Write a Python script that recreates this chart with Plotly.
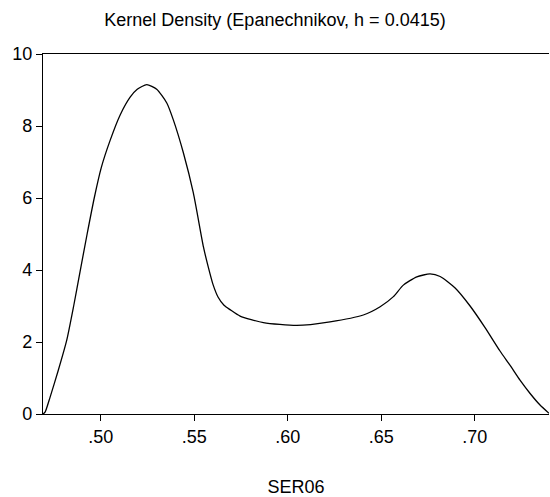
import plotly.graph_objects as go

# Kernel density estimate of SER06
ser06_x = [0.4691, 0.4702, 0.4729, 0.4772, 0.4818, 0.4855, 0.4889, 0.4927, 0.4965, 0.5003,
           0.5050, 0.5103, 0.5157, 0.5195, 0.5246, 0.5299, 0.5353, 0.5388, 0.5442, 0.5495,
           0.5549, 0.5574, 0.5600, 0.5627, 0.5659, 0.5691, 0.5745, 0.5870, 0.6048,
           0.6226, 0.6404, 0.6494, 0.6565, 0.6618, 0.6690, 0.6761, 0.6815, 0.6895,
           0.6975, 0.7055, 0.7135, 0.7189, 0.7242, 0.7296, 0.7349, 0.7397]
density = [0.00, 0.05, 0.47, 1.20, 2.05, 3.00, 3.95, 5.00, 6.00, 6.85,
           7.60, 8.30, 8.80, 9.02, 9.15, 9.02, 8.64, 8.17, 7.25, 6.14,
           4.64, 4.10, 3.60, 3.25, 3.02, 2.90, 2.72, 2.54, 2.46,
           2.56, 2.75, 2.98, 3.26, 3.58, 3.81, 3.89, 3.82, 3.50,
           3.00, 2.40, 1.75, 1.35, 0.94, 0.57, 0.25, 0.02]

x_tickvals = [0.50, 0.55, 0.60, 0.65, 0.70]
x_ticktext = [".50", ".55", ".60", ".65", ".70"]
y_tickvals = [0, 2, 4, 6, 8, 10]
y_ticktext = ["0", "2", "4", "6", "8", "10"]

FONT = "Liberation Sans, Arial, sans-serif"

fig = go.Figure()
fig.add_trace(go.Scatter(
    x=ser06_x, y=density, mode="lines",
    line=dict(color="black", width=1.3, shape="spline", smoothing=0.6),
    showlegend=False, hoverinfo="skip",
))

fig.update_layout(
    width=550, height=497,
    margin=dict(l=43, r=1, t=54, b=83),
    paper_bgcolor="white", plot_bgcolor="white",
    font=dict(family=FONT, color="black", size=18),
    title=dict(text="Kernel Density (Epanechnikov, h = 0.0415)",
               x=0.5, xanchor="center", y=0.96, yanchor="middle",
               font=dict(family=FONT, size=18, color="black")),
    xaxis=dict(
        range=[0.4691, 0.7397], tickvals=x_tickvals, ticktext=x_ticktext,
        showgrid=False, zeroline=False, showline=True, linecolor="black",
        linewidth=1.3, mirror=True, ticks="outside", ticklen=6, tickcolor="black",
        tickfont=dict(size=18),
        title=dict(text="SER06", font=dict(size=18), standoff=34),
    ),
    yaxis=dict(
        range=[0, 10], tickvals=y_tickvals, ticktext=y_ticktext,
        showgrid=False, zeroline=False, showline=True, linecolor="black",
        linewidth=1.3, ticks="outside", ticklen=6, tickcolor="black",
        tickfont=dict(size=18),
    ),
)

fig.write_html(
    "out.html",
    config={"displayModeBar": False},
    post_script="document.body.style.margin='0';document.body.style.overflow='hidden';",
)
